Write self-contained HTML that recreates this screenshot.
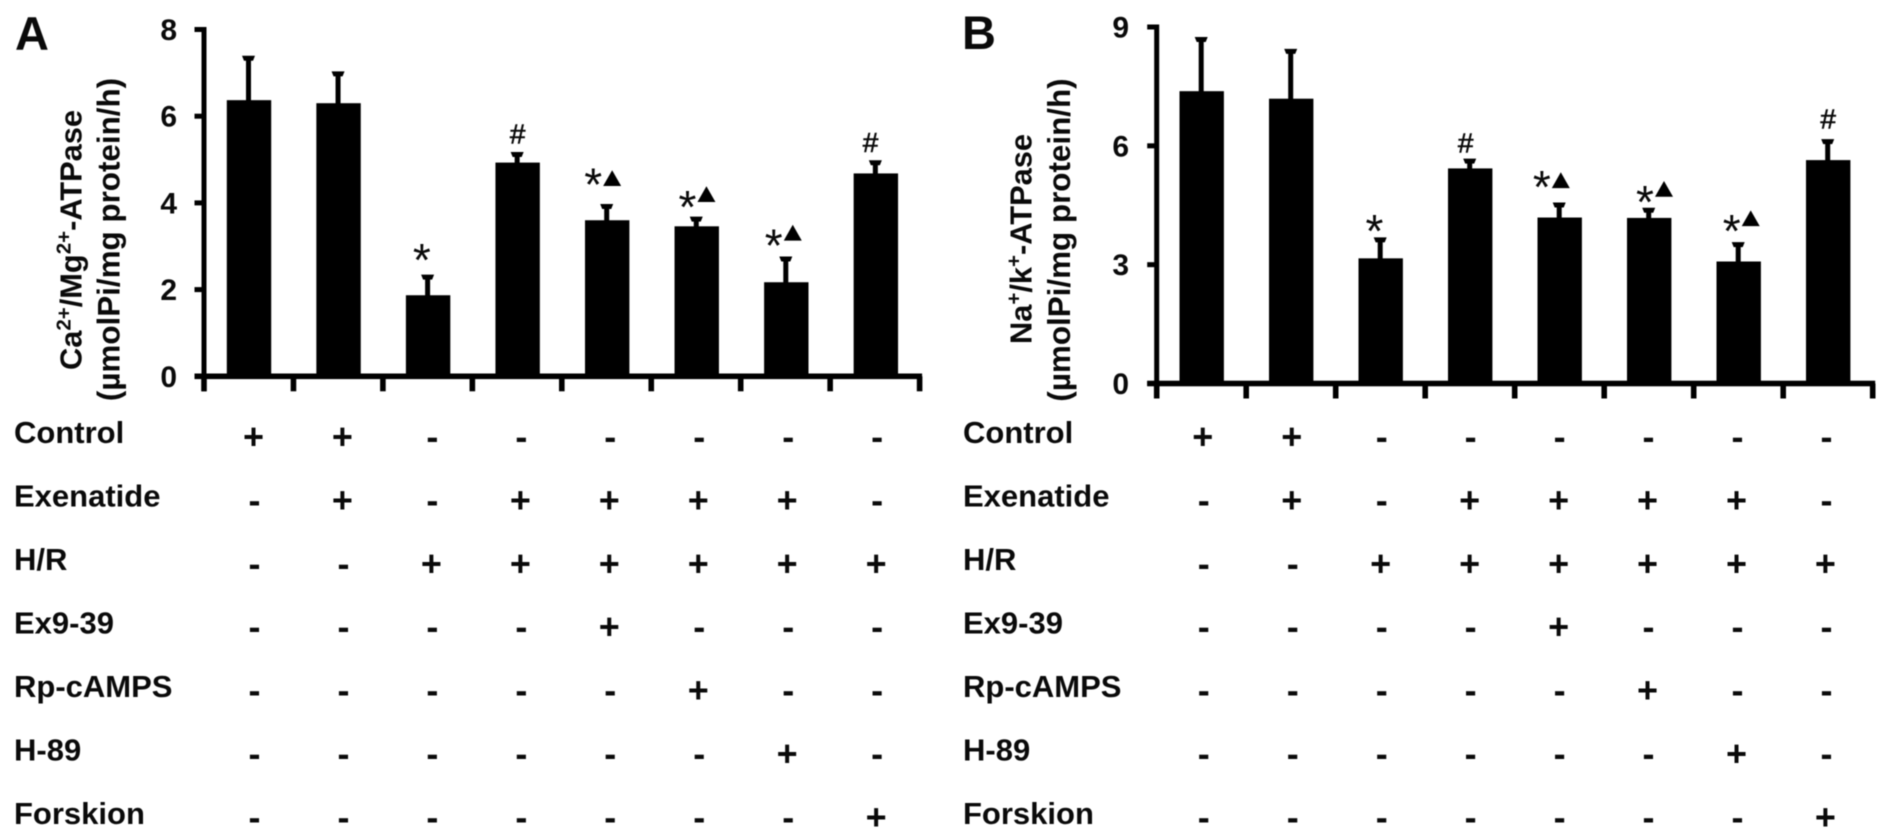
<!DOCTYPE html>
<html lang="en">
<head>
<meta charset="utf-8">
<title>Ca2+/Mg2+-ATPase and Na+/K+-ATPase activity</title>
<style>
html,body{margin:0;padding:0;background:#fff;width:1890px;height:840px;overflow:hidden}
svg{display:block;filter:blur(0.55px)}
text{font-family:"Liberation Sans",Arial,sans-serif;fill:#0a0a0a}
.label{font-size:31px;font-weight:700}
.tick{font-size:30px;font-weight:700}
.panel{font-size:47px;font-weight:700}
.title{font-size:30.8px;font-weight:700}
.title2{font-size:31.4px;font-weight:700}
.sym{font-size:36px;font-weight:700}
.star{font-size:46px;font-weight:400}
.hash{font-size:28px;font-weight:400;stroke:#0a0a0a;stroke-width:0.6px}
</style>
</head>
<body>
<svg id="figure" xmlns="http://www.w3.org/2000/svg" width="1890" height="840" viewBox="0 0 1890 840">
  <rect x="0" y="0" width="1890" height="840" fill="#fff"/>
  <text class="panel" x="15" y="50">A</text>
  <text class="panel" x="962" y="49">B</text>
  <text class="title" transform="translate(81.5,240) rotate(-90)" text-anchor="middle">Ca<tspan font-size="20.5" dy="-11">2+</tspan><tspan dy="11">/Mg</tspan><tspan font-size="20.5" dy="-11">2+</tspan><tspan dy="11">-ATPase</tspan></text>
  <text class="title2" transform="translate(119.5,239.5) rotate(-90)" text-anchor="middle">(µmolPi/mg protein/h)</text>
  <text class="title" transform="translate(1031.5,239) rotate(-90)" text-anchor="middle">Na<tspan font-size="20.5" dy="-11">+</tspan><tspan dy="11">/k</tspan><tspan font-size="20.5" dy="-11">+</tspan><tspan dy="11">-ATPase</tspan></text>
  <text class="title2" transform="translate(1070,240) rotate(-90)" text-anchor="middle">(µmolPi/mg protein/h)</text>
</svg>
<script>
// Treatment table
const treatmentNames = ['Control', 'Exenatide', 'H/R', 'Ex9-39', 'Rp-cAMPS', 'H-89', 'Forskion'];
const treatmentFlags = [
  ['+', '+', '-', '-', '-', '-', '-', '-'],
  ['-', '+', '-', '+', '+', '+', '+', '-'],
  ['-', '-', '+', '+', '+', '+', '+', '+'],
  ['-', '-', '-', '-', '+', '-', '-', '-'],
  ['-', '-', '-', '-', '-', '+', '-', '-'],
  ['-', '-', '-', '-', '-', '-', '+', '-'],
  ['-', '-', '-', '-', '-', '-', '-', '+']
];

// Panel A: Ca2+/Mg2+-ATPase
const ticksA = [0, 2, 4, 6, 8];
const valuesA = [6.37, 6.30, 1.87, 4.93, 3.60, 3.46, 2.17, 4.68];
const errorTopsA = [7.36, 7.00, 2.31, 5.14, 3.94, 3.65, 2.73, 4.95];
const symbolsA = ['', '', '*', '#', '*^', '*^', '*^', '#'];
const symbolLevelsA = [0, 0, 2.84, 5.59, 4.59, 4.07, 3.18, 5.40];
const triangleLevelsA = [0, 0, 0, 0, 4.57, 4.20, 3.31, 0];
const symbolShiftsA = [0, 0, -0.07, 0, -0.157, -0.104, -0.14, -0.06];

// Panel B: Na+/K+-ATPase
const ticksB = [0, 3, 6, 9];
const valuesB = [7.38, 7.19, 3.16, 5.43, 4.19, 4.18, 3.08, 5.64];
const errorTopsB = [8.71, 8.41, 3.65, 5.64, 4.53, 4.40, 3.53, 6.13];
const symbolsB = ['', '', '*', '#', '*^', '*^', '*^', '#'];
const symbolLevelsB = [0, 0, 4.03, 6.08, 5.14, 4.76, 4.03, 6.68];
const triangleLevelsB = [0, 0, 0, 0, 5.13, 4.91, 4.17, 0];
const symbolShiftsB = [0, 0, -0.07, -0.05, -0.2, -0.047, -0.078, 0];

const NS = 'http://www.w3.org/2000/svg';
const figure = document.getElementById('figure');

function make(tag, attrs, parent) {
  const node = document.createElementNS(NS, tag);
  for (const key in attrs) node.setAttribute(key, attrs[key]);
  parent.appendChild(node);
  return node;
}

function drawPanel(id, layout, ticks, values, errorTops, symbols, symbolLevels, triangleLevels, symbolShifts) {
  const maxTick = ticks[ticks.length - 1];
  const yScale = function (v) { return layout.y0 - (v / maxTick) * (layout.y0 - layout.yTop); };
  const xScale = function (i) { return layout.barStart + i * layout.step; };

  const group = make('g', {}, figure);
  
  

  // bars and error bars
  values.forEach(function (value, i) {
    const cx = xScale(i);
    const stem = make('rect', { x: cx - 3, y: yScale(errorTops[i]), width: 5, height: yScale(value) - yScale(errorTops[i]) + 1, fill: '#000' }, group);
    
    
    const cap = make('polygon', {
      points: [cx - 7, yScale(errorTops[i]) - 1.5, cx + 6, yScale(errorTops[i]) - 1.5, cx + 4, yScale(errorTops[i]) + 3.5, cx - 5, yScale(errorTops[i]) + 3.5].join(' '),
      fill: '#000'
    }, group);
    
    
    const bar = make('rect', { x: cx - 22.2, y: yScale(value), width: 44.4, height: layout.y0 - yScale(value), fill: '#000' }, group);
    
    
  });

  // axes
  const yAxis = make('rect', { x: layout.axisX - 2.5, y: yScale(maxTick) - 2.5, width: 5, height: layout.y0 + 15 - yScale(maxTick) + 2.5, fill: '#000' }, group);
  
  
  const xAxis = make('rect', { x: layout.axisX - 9.5, y: layout.y0 - 2.8, width: 8 * layout.tickStep + 12, height: 5.6, fill: '#000' }, group);
  
  

  ticks.forEach(function (tick) {
    const mark = make('rect', { x: layout.axisX - 9.5, y: yScale(tick) - 2.5, width: 9.5, height: 5, fill: '#000' }, group);
    
    
    const label = make('text', { x: layout.tickLabelX, y: yScale(tick) + 10.5, 'text-anchor': 'end', 'class': 'tick' }, group);
    label.textContent = String(tick);
    
    
  });

  for (let t = 0; t <= values.length; t++) {
    const tickMark = make('rect', { x: layout.axisX + t * layout.tickStep - 2.8, y: layout.y0, width: 5.6, height: 15, fill: '#000' }, group);
    
    
  }

  // significance symbols
  symbols.forEach(function (symbol, i) {
    if (!symbol) return;
    const sx = xScale(i) + symbolShifts[i] * layout.step;
    const sy = yScale(symbolLevels[i]);
    if (symbol.charAt(0) === '#') {
      const hash = make('text', { x: sx, y: sy + 9.6, 'text-anchor': 'middle', 'class': 'hash' }, group);
      hash.textContent = '#';
      
      
    } else {
      const star = make('text', { x: sx, y: sy + 23, 'text-anchor': 'middle', 'class': 'star' }, group);
      star.textContent = '*';
      
      
    }
    if (symbol.charAt(1) === '^') {
      const tx = sx + 19;
      const ty = yScale(triangleLevels[i]);
      const triangle = make('polygon', { points: [tx, ty - 8, tx + 9, ty + 7.8, tx - 9, ty + 7.8].join(' '), fill: '#000' }, group);
      
      
    }
  });

  // treatment table
  treatmentNames.forEach(function (name, r) {
    const rowLabel = make('text', { x: layout.rowLabelX, y: 443 + r * 63.5, 'class': 'label' }, group);
    rowLabel.textContent = name;
    
    
    treatmentFlags[r].forEach(function (flag, c) {
      const dx = flag === '-' ? 1 : 0;
      const cell = make('text', { x: layout.symbolStart + c * 88.95 + dx, y: 449 + r * 63.4, 'text-anchor': 'middle', 'class': 'sym' }, group);
      cell.textContent = flag;
      
      
    });
  });
}

drawPanel('a', { axisX: 204, y0: 376.3, yTop: 29.5, barStart: 249, step: 89.55, tickStep: 89.45, tickLabelX: 177, rowLabelX: 14, symbolStart: 253.5 },
  ticksA, valuesA, errorTopsA, symbolsA, symbolLevelsA, triangleLevelsA, symbolShiftsA);
drawPanel('b', { axisX: 1156.7, y0: 383.5, yTop: 27, barStart: 1201.7, step: 89.5, tickStep: 89.5, tickLabelX: 1129, rowLabelX: 963, symbolStart: 1202.8 },
  ticksB, valuesB, errorTopsB, symbolsB, symbolLevelsB, triangleLevelsB, symbolShiftsB);
</script>
</body>
</html>
